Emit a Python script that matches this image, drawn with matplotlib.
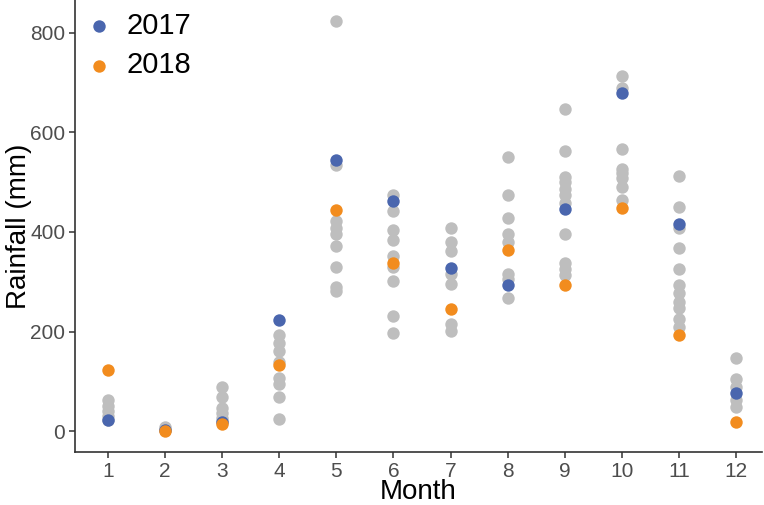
import matplotlib
matplotlib.use("Agg")
import matplotlib.pyplot as plt

months = list(range(1, 13))
other_years = {
    1: [62, 50, 40, 30, 22],
    2: [8, 5, 3],
    3: [89, 68, 46, 36, 26, 20],
    4: [193, 176, 161, 139, 106, 94, 69, 25],
    5: [823, 535, 423, 407, 395, 372, 330, 290, 282],
    6: [474, 442, 403, 384, 352, 330, 302, 232, 198],
    7: [407, 379, 361, 316, 295, 215, 202],
    8: [550, 474, 428, 396, 379, 316, 305, 267],
    9: [648, 563, 510, 501, 486, 474, 458, 396, 337, 325, 314],
    10: [714, 690, 567, 526, 518, 508, 491, 464],
    11: [513, 450, 407, 367, 325, 293, 277, 260, 247, 226, 210],
    12: [146, 105, 89, 62, 49],
}
rain_2017 = [22, 2, 19, 224, 545, 463, 327, 293, 446, 679, 416, 76]
rain_2018 = [123, 0, 15, 133, 444, 337, 245, 364, 293, 448, 194, 19]

plt.rcParams['font.family'] = ['Liberation Sans', 'DejaVu Sans']
fig = plt.figure(figsize=(7.64, 5.05), dpi=100)
ax = fig.add_axes([0.098, 0.105, 0.899, 0.895])

gx, gy = [], []
for m in months:
    for v in other_years[m]:
        gx.append(m)
        gy.append(v)
ax.scatter(gx, gy, s=80, color='#bebebe', linewidths=0, zorder=2)
ax.scatter(months, rain_2017, s=80, color='#4a66ae', linewidths=0, zorder=3, label='2017')
ax.scatter(months, rain_2018, s=80, color='#f28c1e', linewidths=0, zorder=4, label='2018')

ax.set_xlim(0.42, 12.45)
ax.set_ylim(-42, 866)
ax.set_xticks(months)
ax.set_yticks([0, 200, 400, 600, 800])
for s in ['top', 'right']:
    ax.spines[s].set_visible(False)
for s in ['left', 'bottom']:
    ax.spines[s].set_linewidth(1.2)
    ax.spines[s].set_color('#333333')
ax.tick_params(axis='both', labelsize=15, labelcolor='#4d4d4d', color='#333333',
               length=4, width=1.1, pad=3)
ax.set_xlabel('Month', fontsize=20)
ax.set_ylabel('Rainfall (mm)', fontsize=20)
ax.xaxis.set_label_coords(0.5, -0.104)
ax.xaxis.label.set_verticalalignment('baseline')
ax.yaxis.set_label_coords(-0.063, 0.5)
leg = ax.legend(loc='upper left', frameon=False, fontsize=21, handletextpad=0.35,
                borderaxespad=0.0, labelspacing=0.4, handlelength=1.2,
                bbox_to_anchor=(-0.008, 1.0))
fig.savefig('out.png', dpi=100)
